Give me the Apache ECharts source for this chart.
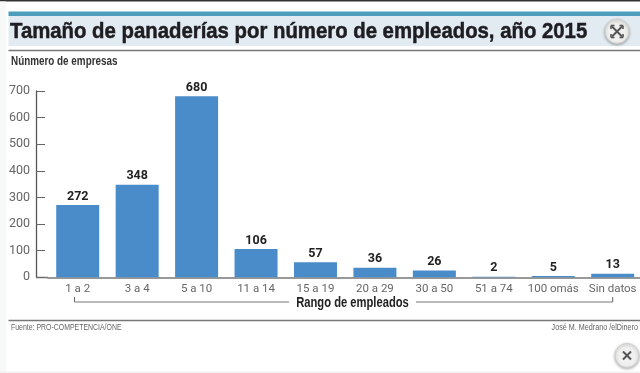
<!DOCTYPE html>
<html><head><meta charset="utf-8">
<style>html,body{margin:0;padding:0;background:#fff}#c{width:640px;height:373px}</style>
<script src="https://cdn.jsdelivr.net/npm/echarts@6/dist/echarts.min.js"></script>
</head><body><div id="c"></div>
<script>
const categories = ['1 a 2','3 a 4','5 a 10','11 a 14','15 a 19','20 a 29','30 a 50','51 a 74','100 omás','Sin datos'];
const values = [272,348,680,106,57,36,26,2,5,13];
const yTicks = [0,100,200,300,400,500,600,700];
const titleText = 'Tamaño de panaderías por número de empleados, año 2015';
const yTitle = 'Núnmero de empresas';
const xTitle = 'Rango de empleados';
const sourceText = 'Fuente: PRO-COMPETENCIA/ONE';
const creditText = 'José M. Medrano /elDinero';
const lib = '"Liberation Sans",sans-serif';
const cond = 'Roboto,sans-serif';
const chart = echarts.init(document.getElementById('c'), null, {renderer:'canvas'});
function hline(x1,y,x2,color,w){return {type:'line',silent:true,shape:{x1,y1:y,x2,y2:y},style:{stroke:color,lineWidth:w}};}
function vline(x,y1,y2,color,w){return {type:'line',silent:true,shape:{x1:x,y1,x2:x,y2},style:{stroke:color,lineWidth:w}};}
function seg(x1,y1,x2,y2,color,w){return {type:'line',silent:true,shape:{x1,y1,x2,y2},style:{stroke:color,lineWidth:w}};}
function circle(cx,cy){return {type:'circle',silent:true,shape:{cx,cy,r:12},style:{fill:'#f0f0ee',stroke:'#cfcfcf',lineWidth:1,shadowBlur:3,shadowColor:'rgba(0,0,0,.3)',shadowOffsetY:1}};}
function cross(cx,cy,r,w){return [seg(cx-r,cy-r,cx+r,cy+r,'#555',w),seg(cx-r,cy+r,cx+r,cy-r,'#555',w)];}
function corners(cx,cy,r){
 const out=[];
 for(const sx of [-1,1]) for(const sy of [-1,1]){
  out.push(seg(cx+sx*r,cy+sy*r,cx+sx*(r-3.5),cy+sy*r,'#555',1.6));
  out.push(seg(cx+sx*r,cy+sy*r,cx+sx*r,cy+sy*(r-3.5),'#555',1.6));
 }
 return out;
}
function label(x,y,text,fill,font,scaleX,align,extra){
 return {type:'text',silent:true,x,y,scaleX,style:Object.assign({text,fill,font,align:align||'left',verticalAlign:'middle'},extra||{})};
}
chart.setOption({
 animation:false,
 backgroundColor:'#ffffff',
 grid:{left:48,width:594.4,top:91,height:186.3,outerBoundsMode:'none'},
 xAxis:{type:'category',data:categories,
  axisLine:{lineStyle:{color:'#777',width:1.5}},axisTick:{show:false},
  axisLabel:{interval:0,margin:6,color:'#666',fontFamily:cond,fontSize:11.5}},
 yAxis:{type:'value',min:0,max:700,interval:100,offset:12,
  splitLine:{show:false},
  axisLine:{show:true,lineStyle:{color:'#555',width:1.3}},
  axisTick:{show:true,length:9,inside:true,lineStyle:{color:'#666',width:1}},
  axisLabel:{margin:6,color:'#666',fontFamily:cond,fontSize:12.5,
   formatter:v=>yTicks.includes(v)?String(v):''}},
 series:[{type:'bar',data:values,barWidth:43,itemStyle:{color:'#4a8cca'},
  label:{show:true,position:'top',distance:2,color:'#222',fontFamily:cond,fontWeight:'bold',fontSize:12.5}}],
 graphic:{elements:[
  {type:'rect',silent:true,shape:{x:0,y:0,width:640,height:1.5},style:{fill:'#333'}},
  {type:'rect',silent:true,shape:{x:0,y:1.5,width:6,height:371},style:{fill:'#f7f8f8'}},
  {type:'rect',silent:true,shape:{x:8.5,y:11.5,width:632,height:4.5},style:{fill:'#4d9dbb'}},
  {type:'rect',silent:true,shape:{x:8.5,y:16,width:632,height:30},style:{fill:'#e2ebf1'}},
  hline(8.5,50.5,640,'#777',1.5),
  label(10,31.5,titleText,'#1d1d22','bold 22.5px '+lib,0.904,'left',{stroke:'#1d1d22',lineWidth:0.5}),
  label(11,62,yTitle,'#333','bold 12.5px '+lib,0.79),
  circle(617,31.5),...cross(617,31.5,5,2),...corners(617,31.5,6),
  hline(36,277.5,48,'#777',1.5),
  vline(74.5,297,302,'#666',1),hline(74.5,302,289,'#777',1),
  hline(416,302,612.7,'#777',1),vline(612.7,297,302,'#666',1),
  label(352.5,303.5,xTitle,'#222','bold 14px '+lib,0.8,'center'),
  hline(8.5,320.5,640,'#777',1.5),
  label(11,328,sourceText,'#666','9px '+lib,0.77),
  label(638,328,creditText,'#666','9px '+lib,0.8,'right'),
  circle(627,355.5),...cross(627,355.5,4,2),
  {type:'rect',silent:true,shape:{x:0,y:371.5,width:640,height:1.5},style:{fill:'#f1f1f1'}}
 ]}
});
</script></body></html>
